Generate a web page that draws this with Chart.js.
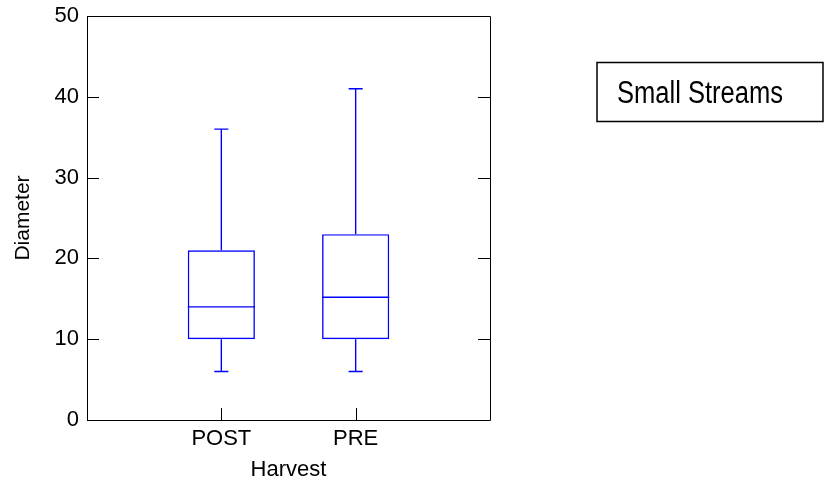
<!DOCTYPE html>
<html>
<head>
<meta charset="utf-8">
<script src="https://cdn.jsdelivr.net/npm/chart.js@4/dist/chart.umd.min.js"></script>
<style>
  html, body { margin: 0; padding: 0; background: #fff; }
  #wrap { width: 828px; height: 487px; }
</style>
</head>
<body>
<div id="wrap"><canvas id="c" width="828" height="487"></canvas></div>
<script>
// Diameter by harvest period (box = quartiles, line = median, whiskers = range)
const categories = ['POST', 'PRE'];
const whiskerLow = [6, 6];
const q1 = [10, 10];
const median = [14, 15.2];
const q3 = [21, 23];
const whiskerHigh = [36, 41];
const yTicks = [0, 10, 20, 30, 40, 50];
const legendText = 'Small Streams';

const BLUE = '#0000ff';
const FONT = 'Liberation Sans, Arial, Helvetica, sans-serif';

// empty slots at both ends so the two groups sit at 1/3 and 2/3 of the frame
const labels = [''].concat(categories, ['']);
const boxData = [null].concat(categories.map((_, i) => [q1[i], q3[i]]), [null]);

// whiskers, caps and median lines, placed through the chart's scales
const boxDetails = {
  id: 'boxDetails',
  afterDatasetsDraw(chart) {
    const ctx = chart.ctx;
    const xs = chart.scales.x, ys = chart.scales.y;
    const meta = chart.getDatasetMeta(0);
    ctx.save();
    ctx.strokeStyle = BLUE;
    ctx.lineWidth = 1.4;
    categories.forEach((c, i) => {
      const bar = meta.data[i + 1];
      const cx = xs.getPixelForValue(i + 1);
      const half = bar.width / 2;
      const cap = bar.width * 0.105;
      const yLo = ys.getPixelForValue(whiskerLow[i]);
      const yQ1 = ys.getPixelForValue(q1[i]);
      const yMed = ys.getPixelForValue(median[i]);
      const yQ3 = ys.getPixelForValue(q3[i]);
      const yHi = ys.getPixelForValue(whiskerHigh[i]);
      ctx.beginPath();
      ctx.moveTo(cx, yQ1); ctx.lineTo(cx, yLo);
      ctx.moveTo(cx - cap, yLo); ctx.lineTo(cx + cap, yLo);
      ctx.moveTo(cx, yQ3); ctx.lineTo(cx, yHi);
      ctx.moveTo(cx - cap, yHi); ctx.lineTo(cx + cap, yHi);
      ctx.moveTo(cx - half, yMed); ctx.lineTo(cx + half, yMed);
      ctx.stroke();
    });
    ctx.restore();
  }
};

// closed frame with inward tick marks, plus the boxed label on the right
const frame = {
  id: 'frame',
  afterDraw(chart) {
    const ctx = chart.ctx;
    const a = chart.chartArea;
    const xs = chart.scales.x, ys = chart.scales.y;
    const tl = 12;
    ctx.save();
    ctx.strokeStyle = '#000';
    ctx.lineWidth = 1;
    ctx.beginPath();
    ctx.rect(Math.round(a.left) + 0.5, Math.round(a.top) + 0.5,
             Math.round(a.right - a.left), Math.round(a.bottom - a.top));
    yTicks.forEach(v => {
      const y = Math.round(ys.getPixelForValue(v)) + 0.5;
      ctx.moveTo(a.left, y); ctx.lineTo(a.left + tl, y);
      ctx.moveTo(a.right - tl, y); ctx.lineTo(a.right, y);
    });
    categories.forEach((c, i) => {
      const x = Math.round(xs.getPixelForValue(i + 1)) + 0.5;
      ctx.moveTo(x, a.bottom); ctx.lineTo(x, a.bottom - tl);
    });
    ctx.stroke();

    // label box (narrow lettering)
    ctx.lineWidth = 1.5;
    ctx.strokeRect(597, 62.5, 226, 59);
    ctx.fillStyle = '#000';
    ctx.font = '31px ' + FONT;
    ctx.textBaseline = 'alphabetic';
    ctx.textAlign = 'left';
    ctx.translate(617, 103);
    ctx.scale(0.824, 1);
    ctx.fillText(legendText, 0, 0);
    ctx.restore();
  }
};

new Chart(document.getElementById('c'), {
  type: 'bar',
  data: {
    labels: labels,
    datasets: [{
      data: boxData,
      backgroundColor: 'rgba(255,255,255,0)',
      borderColor: BLUE,
      borderWidth: 1.4,
      borderSkipped: false,
      categoryPercentage: 1,
      barPercentage: 0.5
    }]
  },
  options: {
    responsive: false,
    animation: false,
    events: [],
    layout: { padding: { top: 16, right: 338, left: 0, bottom: 0 } },
    plugins: { legend: { display: false }, tooltip: { enabled: false } },
    scales: {
      x: {
        type: 'category',
        offset: false,
        grid: { display: false, drawTicks: false },
        border: { display: false },
        ticks: { color: '#000', font: { family: FONT, size: 22 }, padding: 6, maxRotation: 0, autoSkip: false },
        title: { display: true, text: 'Harvest', color: '#000', font: { family: FONT, size: 22 }, padding: { top: 0, bottom: 4 } },
        afterFit(s) { s.height = 67; s.paddingLeft = 0; s.paddingRight = 0; }
      },
      y: {
        min: 0, max: 50,
        afterBuildTicks(s) { s.ticks = yTicks.map(v => ({ value: v })); },
        grid: { display: false, drawTicks: false },
        border: { display: false },
        ticks: { color: '#000', font: { family: FONT, size: 22 }, padding: 8 },
        title: { display: true, text: 'Diameter', color: '#000', font: { family: FONT, size: 21 }, padding: { top: 11, bottom: 0 } },
        afterFit(s) { s.width = 87; s.paddingTop = 0; s.paddingBottom = 0; }
      }
    }
  },
  plugins: [boxDetails, frame]
});
</script>
</body>
</html>
